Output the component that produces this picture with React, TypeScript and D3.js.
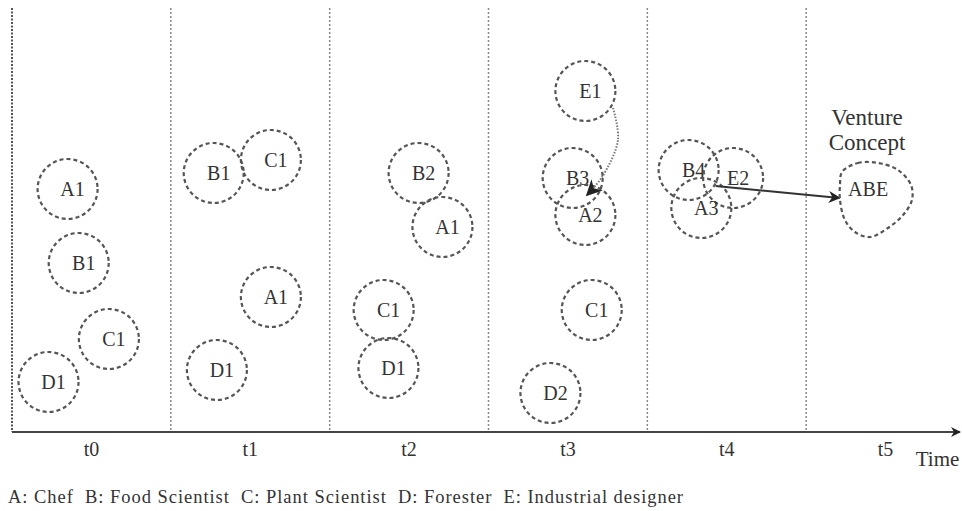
import * as d3 from 'd3'

// time periods along the horizontal axis
const periods = ['t0', 't1', 't2', 't3', 't4', 't5']

// team members per period: label, time position, height above the axis
const nodeLabels = ['A1', 'B1', 'C1', 'D1', 'B1', 'C1', 'A1', 'D1', 'B2', 'A1', 'C1', 'D1', 'E1', 'B3', 'A2', 'C1', 'D2', 'B4', 'E2', 'A3']
const nodeTime = [0.35, 0.42, 0.61, 0.23, 1.27, 1.63, 1.63, 1.29, 2.56, 2.71, 2.34, 2.37, 3.61, 3.53, 3.61, 3.65, 3.39, 4.26, 4.54, 4.34]
const nodeLevel = [243, 169, 93, 50, 259, 272, 135, 62, 259, 205, 122, 64, 341, 254, 217, 122, 39, 262, 254, 224]

// venture concept outline (irregular blob)
const conceptLabel = 'ABE'
const conceptTitle = ['Venture', 'Concept']
const conceptTime = [5.226, 5.326, 5.452, 5.578, 5.66, 5.666, 5.61, 5.515, 5.402, 5.307, 5.244, 5.213, 5.213]
const conceptLevel = [260, 269, 269, 262, 247, 232, 217, 204, 195, 200, 212, 232, 247]

// dotted move of E1 into the team, and the merge arrow to the concept
const moveTime = [3.784, 3.815, 3.715, 3.62]
const moveLevel = [324, 292, 255, 237]
const mergeTime = [4.43, 5.21]
const mergeLevel = [246, 234]

const legend = 'A: Chef  B: Food Scientist  C: Plant Scientist  D: Forester  E: Industrial designer'

const width = 962
const height = 511
const font = '"Liberation Serif", "Times New Roman", serif'
const ink = '#333'

export default function App() {
  const x = d3.scaleLinear().domain([0, 6]).range([12, 965])
  const y = d3.scaleLinear().domain([0, 424]).range([432, 8])
  const r = 30

  const blob = d3
    .line<number>()
    .x(i => x(conceptTime[i]))
    .y(i => y(conceptLevel[i]))
    .curve(d3.curveCatmullRomClosed)(d3.range(conceptTime.length))

  const move = d3
    .line<number>()
    .x(i => x(moveTime[i]))
    .y(i => y(moveLevel[i]))
    .curve(d3.curveCatmullRom)(d3.range(moveTime.length))

  const merge = d3
    .line<number>()
    .x(i => x(mergeTime[i]))
    .y(i => y(mergeLevel[i]))(d3.range(mergeTime.length))

  return (
    <svg
      width={width}
      height={height}
      style={{ position: 'absolute', left: 0, top: 0, display: 'block', background: '#fff' }}
    >
      <defs>
        <marker id="axisHead" viewBox="0 0 10 10" refX="9" refY="5" markerWidth="5" markerHeight="5" orient="auto" markerUnits="strokeWidth">
          <path d="M0,0 L10,5 L0,10 L3,5 Z" fill="#222" />
        </marker>
        <marker id="mergeHead" viewBox="0 0 10 10" refX="9" refY="5" markerWidth="6" markerHeight="6" orient="auto" markerUnits="strokeWidth">
          <path d="M0,0 L10,5 L0,10 L3,5 Z" fill="#222" />
        </marker>
        <marker id="moveHead" viewBox="0 0 10 10" refX="9" refY="5" markerWidth="8" markerHeight="8" orient="auto" markerUnits="strokeWidth">
          <path d="M0,0 L10,5 L0,10 L3,5 Z" fill="#222" />
        </marker>
      </defs>

      {/* period dividers */}
      {periods.map((p, i) => (
        <line
          key={p}
          x1={x(i)}
          x2={x(i)}
          y1={y(424)}
          y2={y(0)}
          stroke={i === 0 ? '#555' : '#888'}
          strokeWidth={i === 0 ? 2 : 1.5}
          strokeDasharray={i === 0 ? '2 1.5' : '2 2'}
        />
      ))}

      {/* time axis */}
      <line x1={x(0)} x2={width - 2} y1={y(0)} y2={y(0)} stroke="#444" strokeWidth={2} markerEnd="url(#axisHead)" />
      {periods.map((p, i) => (
        <text key={p} x={x(i + 0.5)} y={y(-24)} textAnchor="middle" fontFamily={font} fontSize={20} fill={ink}>
          {p}
        </text>
      ))}
      <text x={x(5.69)} y={y(-34)} fontFamily={font} fontSize={21} fill={ink}>
        Time
      </text>

      {/* team members */}
      {nodeLabels.map((d, i) => (
        <g key={i} transform={`translate(${x(nodeTime[i])},${y(nodeLevel[i])})`}>
          <circle r={r} fill="none" stroke="#555" strokeWidth={2.2} strokeDasharray="4 3" />
          <text x={5} y={6.5} textAnchor="middle" fontFamily={font} fontSize={20} fill={ink}>
            {d}
          </text>
        </g>
      ))}

      {/* E1 joins the team */}
      <path d={move ?? ''} fill="none" stroke="#777" strokeWidth={2} strokeDasharray="1.5 1.5" markerEnd="url(#moveHead)" />

      {/* merge into the venture concept */}
      <path d={merge ?? ''} fill="none" stroke="#333" strokeWidth={2} markerEnd="url(#mergeHead)" />

      {/* venture concept */}
      <path d={blob ?? ''} fill="none" stroke="#555" strokeWidth={2.2} strokeDasharray="4 3" />
      <text x={x(5.39)} y={y(236)} textAnchor="middle" fontFamily={font} fontSize={20} fill={ink}>
        {conceptLabel}
      </text>
      {conceptTitle.map((t, i) => (
        <text key={t} x={x(5.383)} y={y(307 - i * 25)} textAnchor="middle" fontFamily={font} fontSize={23} fill={ink}>
          {t}
        </text>
      ))}

      {/* legend */}
      <text
        x={8}
        y={503}
        fontFamily={font}
        fontSize={18.5}
        fill={ink}
        textLength={675}
        lengthAdjust="spacing"
        style={{ whiteSpace: 'pre' }}
      >
        {legend}
      </text>
    </svg>
  )
}
